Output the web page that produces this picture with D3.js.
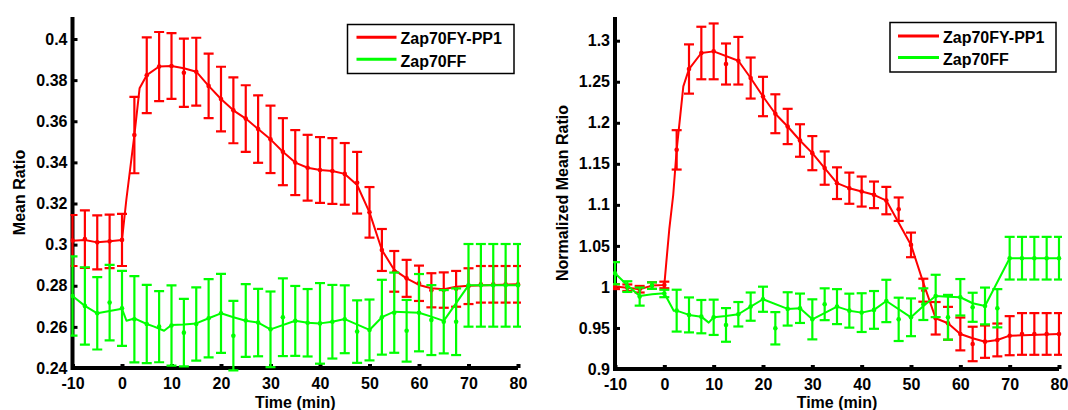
<!DOCTYPE html>
<html>
<head>
<meta charset="utf-8">
<script src="https://cdn.jsdelivr.net/npm/d3@7"></script>
<style>
  html, body { margin: 0; padding: 0; background: #fff; }
  svg { display: block; }
  text { font-family: "Liberation Sans", Arial, Helvetica, sans-serif; font-weight: bold; fill: #000; }
</style>
</head>
<body>
<svg id="chart" width="1068" height="410"></svg>
<script>
// Sampling times (min) relative to stimulation
const times = [-10, -7.5, -5, -2.5, 0, 2.5, 5, 7.5, 10, 12.5, 15, 17.5, 20, 22.5, 25, 27.5, 30,
  32.5, 35, 37.5, 40, 42.5, 45, 47.5, 50, 52.5, 55, 57.5, 60, 62.5, 65, 67.5, 70, 72.5, 75, 77.5, 80];

const seriesNames = ["Zap70FY-PP1", "Zap70FF"];
const xTicks = [-10, 0, 10, 20, 30, 40, 50, 60, 70, 80];
const ratioTicks = [0.24, 0.26, 0.28, 0.3, 0.32, 0.34, 0.36, 0.38, 0.4];
const normTicks = [0.9, 0.95, 1, 1.05, 1.1, 1.15, 1.2, 1.25, 1.3];

// Mean ratio, Zap70FY-PP1: means and error half-widths at each time
const ratioFYMean = [0.3020, 0.3027, 0.3011, 0.3016, 0.3023, 0.3533, 0.3824, 0.3866, 0.3869, 0.3836,
  0.3841, 0.3772, 0.3708, 0.3653, 0.3613, 0.3562, 0.3512, 0.3452, 0.3399, 0.3374, 0.3363, 0.3358,
  0.3344, 0.3301, 0.3157, 0.2974, 0.2870, 0.2836, 0.2812, 0.2778, 0.2779, 0.2785, 0.2798, 0.2807,
  0.2807, 0.2807, 0.2807];
const ratioFYErr = [0.0124, 0.0140, 0.0131, 0.0130, 0.0127, 0.0186, 0.0184, 0.0168, 0.0160, 0.0166,
  0.0165, 0.0157, 0.0157, 0.0160, 0.0162, 0.0164, 0.0164, 0.0163, 0.0158, 0.0160, 0.0160, 0.0160,
  0.0150, 0.0150, 0.0123, 0.0102, 0.0099, 0.0090, 0.0086, 0.0083, 0.0086, 0.0087, 0.0087, 0.0089,
  0.0089, 0.0089, 0.0089];
// Mean ratio, Zap70FF
const ratioFFMean = [0.2750, 0.2702, 0.2666, 0.2718, 0.2690, 0.2637, 0.2614, 0.2601, 0.2607, 0.2572,
  0.2614, 0.2642, 0.2666, 0.2557, 0.2631, 0.2621, 0.2588, 0.2647, 0.2629, 0.2620, 0.2617, 0.2625,
  0.2637, 0.2577, 0.2585, 0.2647, 0.2669, 0.2581, 0.2669, 0.2633, 0.2625, 0.2625, 0.2802, 0.2802,
  0.2802, 0.2802, 0.2802];
const ratioFFErr = [0.0193, 0.0188, 0.0176, 0.0184, 0.0182, 0.0210, 0.0190, 0.0173, 0.0195, 0.0164,
  0.0178, 0.0190, 0.0192, 0.0169, 0.0177, 0.0164, 0.0184, 0.0189, 0.0170, 0.0164, 0.0196, 0.0179,
  0.0165, 0.0152, 0.0148, 0.0182, 0.0195, 0.0150, 0.0188, 0.0170, 0.0154, 0.0162, 0.0201, 0.0201,
  0.0201, 0.0201, 0.0201];
// Smoothed time courses [time, value]
const ratioFYCurve = [[-10, 0.3019], [-7.5, 0.3022], [-5, 0.3011], [-2.5, 0.3016], [0, 0.3023],
  [0.87, 0.3217], [2.5, 0.3533], [3.55, 0.3760], [5, 0.3824], [7.5, 0.3866], [10, 0.3869],
  [12.5, 0.3858], [15, 0.3841], [17.5, 0.3772], [20, 0.3708], [22.5, 0.3653], [25, 0.3613],
  [27.5, 0.3562], [30, 0.3512], [32.5, 0.3452], [35, 0.3399], [37.5, 0.3374], [40, 0.3363],
  [42.5, 0.3358], [45, 0.3344], [47.5, 0.3290], [50, 0.3157], [52.5, 0.2974], [55, 0.2877],
  [57.5, 0.2836], [60, 0.2804], [62.5, 0.2788], [65, 0.2783], [67.5, 0.2795], [70, 0.2800],
  [80, 0.2807]];
const ratioFFCurve = [[-10, 0.2750], [-7.5, 0.2702], [-5, 0.2666], [-2.5, 0.2677], [0, 0.2688],
  [0.9, 0.2630], [2.5, 0.2641], [5, 0.2614], [6.5, 0.2601], [8.5, 0.2581], [10, 0.2609],
  [12.5, 0.2612], [15, 0.2617], [17.5, 0.2642], [20, 0.2666], [22.5, 0.2647], [25, 0.2630],
  [27.5, 0.2621], [30, 0.2588], [35, 0.2630], [37.5, 0.2620], [40, 0.2617], [42.5, 0.2625],
  [45, 0.2638], [50, 0.2585], [52.5, 0.2647], [55, 0.2674], [60, 0.2669], [62.5, 0.2650],
  [65, 0.2629], [70, 0.2802], [80, 0.2802]];

// Normalized mean ratio, Zap70FY-PP1
const normFYMean = [1.0004, 0.9990, 0.9972, 1.0016, 1.0024, 1.1670, 1.2655, 1.2850, 1.2870, 1.2716,
  1.2756, 1.2545, 1.2320, 1.2110, 1.1955, 1.1784, 1.1630, 1.1448, 1.1264, 1.1203, 1.1162, 1.1122,
  1.1052, 1.0947, 1.0512, 0.9960, 0.9618, 0.9557, 0.9427, 0.9305, 0.9333, 0.9354, 0.9406, 0.9427,
  0.9427, 0.9427, 0.9427];
const normFYErr = [0.003, 0.004, 0.004, 0.004, 0.004, 0.024, 0.030, 0.032, 0.034, 0.025,
  0.029, 0.025, 0.024, 0.0237, 0.0215, 0.0198, 0.0208, 0.0203, 0.0193, 0.019, 0.0183, 0.0162,
  0.0167, 0.0143, 0.015, 0.014, 0.0198, 0.020, 0.020, 0.021, 0.0197, 0.020, 0.0238, 0.0254,
  0.0254, 0.0254, 0.0254];
// Normalized mean ratio, Zap70FF
const normFFMean = [1.0167, 1.0004, 0.9882, 1.0016, 0.9920, 0.9711, 0.9659, 0.9638, 0.9630, 0.9537,
  0.9667, 0.9760, 0.9850, 0.9496, 0.9732, 0.9740, 0.9605, 0.9789, 0.9760, 0.9711, 0.9687, 0.9720,
  0.9829, 0.9605, 0.9630, 0.9790, 0.9890, 0.9630, 0.9874, 0.9752, 0.9768, 0.9740, 1.0350, 1.0350,
  1.0350, 1.0350, 1.0350];
const normFFErr = [0.0135, 0.0065, 0.011, 0.004, 0.0045, 0.0255, 0.0213, 0.0203, 0.0215, 0.0205,
  0.0149, 0.0172, 0.0153, 0.0197, 0.0203, 0.0179, 0.0244, 0.0194, 0.0213, 0.0207, 0.0236, 0.0230,
  0.0258, 0.0264, 0.0230, 0.0193, 0.0258, 0.0273, 0.0222, 0.0177, 0.0224, 0.0233, 0.0260, 0.0260,
  0.0260, 0.0260, 0.0260];
const normFYCurve = [[-10, 1.0004], [-7.5, 0.9990], [-5, 0.9972], [-2.5, 1.0016], [0, 1.0024],
  [0.4, 1.030], [1, 1.070], [1.8, 1.112], [2.5, 1.167], [3.85, 1.2443], [5, 1.2655], [7.5, 1.2850],
  [10, 1.2870], [15, 1.2756], [17.5, 1.2545], [20, 1.2320], [22.5, 1.2110], [25, 1.1955],
  [27.5, 1.1784], [30, 1.1630], [32.5, 1.1448], [35, 1.1264], [37.5, 1.1203], [40, 1.1162],
  [42.5, 1.1122], [45, 1.1052], [50, 1.0512], [52.5, 1.0050], [55, 0.9618], [57.5, 0.9557],
  [60, 0.9427], [62.5, 0.9374], [65, 0.9333], [67.5, 0.9354], [70, 0.9406], [80, 0.9427]];
const normFFCurve = [[-10, 1.0167], [-7.5, 1.0020], [-5, 0.9890], [-2.5, 0.9910], [0, 0.9923],
  [1.9, 0.9710], [2.5, 0.9711], [5, 0.9659], [7.5, 0.9638], [9, 0.9565], [10, 0.9630],
  [12.5, 0.9646], [15, 0.9667], [17.5, 0.9760], [20, 0.9850], [25, 0.9732], [27.5, 0.9740],
  [30, 0.9605], [35, 0.9760], [37.5, 0.9711], [40, 0.9687], [42.5, 0.9720], [45, 0.9829],
  [50, 0.9630], [52.5, 0.9768], [55, 0.9890], [57.5, 0.9880], [60, 0.9874], [62.5, 0.9801],
  [65, 0.9768], [70, 1.0350], [80, 1.0350]];

const RED = "#ff0000", GREEN = "#00ff00";
const FONT = 16;

const svg = d3.select("#chart");

const panels = [
  {
    id: "p1", xr: [72.5, 518], yTop: 17, yBottom: 368,
    yDomain: [0.24, 0.4], yRange: [368, 39], yTicks: ratioTicks,
    yLabel: "Mean Ratio", yLabelX: 25,
    series: [
      { mean: ratioFYMean, err: ratioFYErr, curve: ratioFYCurve, color: RED },
      { mean: ratioFFMean, err: ratioFFErr, curve: ratioFFCurve, color: GREEN }
    ],
    legend: { x: 347.5, y: 24.5, w: 166.5, h: 49, lx0: 356.5, lx1: 396.5, tx: 400.5, rows: [37.3, 59.3], base: [44, 66.5] }
  },
  {
    id: "p2", xr: [615, 1059], yTop: 17, yBottom: 369,
    yDomain: [0.9, 1.3], yRange: [369, 40.7], yTicks: normTicks,
    yLabel: "Normalized Mean Ratio", yLabelX: 568,
    series: [
      { mean: normFYMean, err: normFYErr, curve: normFYCurve, color: RED },
      { mean: normFFMean, err: normFFErr, curve: normFFCurve, color: GREEN }
    ],
    legend: { x: 890, y: 22.5, w: 166, h: 49.5, lx0: 898, lx1: 939, tx: 943, rows: [36, 57.5], base: [42.5, 64.5] }
  }
];

panels.forEach(p => {
  const x = d3.scaleLinear().domain([-10, 80]).range(p.xr);
  const y = d3.scaleLinear().domain(p.yDomain).range(p.yRange);
  const g = svg.append("g");

  // Axes: thick L-shaped frame with inward ticks
  const yAxis = d3.axisLeft(y).tickValues(p.yTicks).tickSize(-5).tickPadding(5)
    .tickFormat(d => d3.format("~g")(d));
  const ya = g.append("g").attr("transform", `translate(${p.xr[0]},0)`).call(yAxis);
  const xAxis = d3.axisBottom(x).tickValues(xTicks).tickSize(-4).tickPadding(10)
    .tickFormat(d => String(d));
  const xa = g.append("g").attr("transform", `translate(0,${p.yBottom})`).call(xAxis);
  [ya, xa].forEach(a => {
    a.select(".domain").remove();
    a.selectAll(".tick line").attr("stroke", "#000").attr("stroke-width", 3);
    a.selectAll(".tick text").style("font-size", FONT + "px").style("font-weight", "bold")
      .style("font-family", '"Liberation Sans", Arial, sans-serif').attr("fill", "#000");
  });
  xa.selectAll(".tick line").attr("stroke-width", 4);

  g.append("path")
    .attr("d", `M${p.xr[0]},${p.yTop}V${p.yBottom}H${p.xr[1]}`)
    .attr("fill", "none").attr("stroke", "#000").attr("stroke-width", 4)
    .attr("stroke-linejoin", "miter");

  // Axis labels
  g.append("text")
    .attr("x", (p.xr[0] + p.xr[1]) / 2).attr("y", 407.5)
    .attr("text-anchor", "middle").style("font-size", "16px")
    .text("Time (min)");
  g.append("text")
    .attr("transform", `translate(${p.yLabelX},${(p.yTop + p.yBottom) / 2}) rotate(-90)`)
    .attr("text-anchor", "middle").style("font-size", "16px")
    .text(p.yLabel);

  // Data area, clipped just outside the frame
  svg.append("clipPath").attr("id", "clip-" + p.id).append("rect")
    .attr("x", p.xr[0] - 2).attr("y", 0)
    .attr("width", p.xr[1] - p.xr[0] + 5).attr("height", p.yBottom + 5);
  const dg = g.append("g").attr("clip-path", `url(#clip-${p.id})`);

  const line = d3.line().x(d => x(d[0])).y(d => y(d[1]));
  const capHalf = 5;

  p.series.forEach(s => {
    const sg = dg.append("g");
    const pts = times.map((t, i) => ({ t, m: s.mean[i], e: s.err[i] }));
    // error bars
    const eb = sg.selectAll("g.eb").data(pts).join("g").attr("class", "eb")
      .attr("stroke", s.color).attr("stroke-width", 2.2);
    eb.append("line")
      .attr("x1", d => x(d.t)).attr("x2", d => x(d.t))
      .attr("y1", d => y(d.m - d.e)).attr("y2", d => y(d.m + d.e));
    eb.append("line")
      .attr("x1", d => x(d.t) - capHalf).attr("x2", d => x(d.t) + capHalf)
      .attr("y1", d => y(d.m + d.e)).attr("y2", d => y(d.m + d.e));
    eb.append("line")
      .attr("x1", d => x(d.t) - capHalf).attr("x2", d => x(d.t) + capHalf)
      .attr("y1", d => y(d.m - d.e)).attr("y2", d => y(d.m - d.e));
    // smoothed course
    sg.append("path").datum(s.curve).attr("d", line)
      .attr("fill", "none").attr("stroke", s.color).attr("stroke-width", 2)
      .attr("stroke-linejoin", "round");
    // mean markers
    sg.selectAll("circle").data(pts).join("circle")
      .attr("cx", d => x(d.t)).attr("cy", d => y(d.m)).attr("r", 2.3)
      .attr("fill", s.color);
  });

  // Legend
  const L = p.legend;
  const lg = g.append("g");
  lg.append("rect").attr("x", L.x).attr("y", L.y).attr("width", L.w).attr("height", L.h)
    .attr("fill", "#fff").attr("stroke", "#000").attr("stroke-width", 1.5);
  p.series.forEach((s, i) => {
    lg.append("line").attr("x1", L.lx0).attr("x2", L.lx1)
      .attr("y1", L.rows[i]).attr("y2", L.rows[i])
      .attr("stroke", s.color).attr("stroke-width", 3);
    lg.append("text").attr("x", L.tx).attr("y", L.base[i])
      .style("font-size", "16px").text(seriesNames[i]);
  });
});
</script>
</body>
</html>
